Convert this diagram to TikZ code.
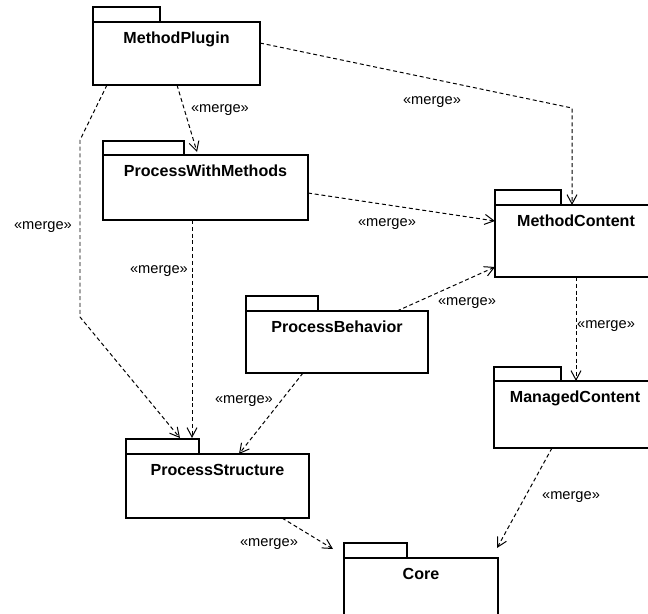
\documentclass[tikz,border=0pt]{standalone}
\usepackage{fontspec}
\setmainfont{Liberation Sans}
\usetikzlibrary{arrows.meta,calc}
\begin{document}
\begin{tikzpicture}[x=0.03cm,y=-0.03cm,
  pkg/.style={draw,line width=1pt,anchor=north west,inner sep=0pt,outer sep=0pt,text height=0.63cm,font=\bfseries\fontsize{13.7}{16}\selectfont},
  tab/.style={line width=1pt},
  merge/.style={line width=0.85pt,dash pattern=on 3.4pt off 2.4pt,-{Straight Barb[length=2.8mm,width=3mm]}},
  lbl/.style={font=\fontsize{12.5}{15}\selectfont}]
\useasboundingbox (0,0) rectangle (648,613);
\clip (0,0) rectangle (648,613);
%packages
\node[pkg,minimum width=5.4cm,text depth=1.53cm](methodcontent) at (495,205){\hspace*{-0.54cm}MethodContent};
\draw[tab](methodcontent.north west) rectangle ++(66,-15);
\node[pkg,minimum width=5.4cm,text depth=1.38cm](managed) at (494,381){\hspace*{-0.54cm}ManagedContent};
\draw[tab](managed.north west) rectangle ++(67,-14);
\node[pkg,minimum width=5.01cm,text depth=1.26cm](plugin) at (93,22){MethodPlugin};
\draw[tab](plugin.north west) rectangle ++(67,-15);
\node[pkg,minimum width=6.15cm,text depth=1.32cm](withmethods) at (103,155){ProcessWithMethods};
\draw[tab](withmethods.north west) rectangle ++(81,-14);
\node[pkg,minimum width=5.46cm,text depth=1.23cm](behavior) at (246,311){ProcessBehavior};
\draw[tab](behavior.north west) rectangle ++(72,-15);
\node[pkg,minimum width=5.49cm,text depth=1.29cm](structure) at (126,454){ProcessStructure};
\draw[tab](structure.north west) rectangle ++(73,-15);
\node[pkg,minimum width=4.62cm,text depth=1.47cm](core) at (344,558){Core};
\draw[tab](core.north west) rectangle ++(63,-15);
%merges
\draw[merge]($(plugin.south west)+(14,0)$)--(80,140)--(80,317)--($(structure.north west)+(54,-16)$);
\draw[merge]($(plugin.south west)+(84,0)$)--($(withmethods.north west)+(94,-3)$);
\draw[merge]($(plugin.north east)+(0,21)$)--(572,108)--($(methodcontent.north west)+(77,0)$);
\draw[merge]($(withmethods.north east)+(0,38)$)--($(methodcontent.north west)+(0,16)$);
\draw[merge]($(withmethods.south west)+(89,0)$)--($(structure.north west)+(66,-16)$);
\draw[merge]($(behavior.north west)+(151,0)$)--($(methodcontent.north west)+(0,62)$);
\draw[merge]($(behavior.south west)+(57,0)$)--($(structure.north west)+(113,0)$);
\draw[merge]($(methodcontent.south west)+(81,0)$)--($(managed.north west)+(82,0)$);
\draw[merge]($(managed.south west)+(58,0)$)--($(core.north west)+(153,-10)$);
\draw[merge]($(structure.south west)+(156,0)$)--($(core.north west)+(-11,-9)$);
%labels
\node[lbl](m1) at (43,227){«merge»};
\node[lbl](m2) at (220,110){«merge»};
\node[lbl](m3) at (432,102){«merge»};
\node[lbl](m4) at (387,224){«merge»};
\node[lbl](m5) at (159,271){«merge»};
\node[lbl](m6) at (467,303){«merge»};
\node[lbl](m7) at (244,401){«merge»};
\node[lbl](m8) at (606,326){«merge»};
\node[lbl](m9) at (571,497){«merge»};
\node[lbl](m10) at (269,544){«merge»};
\end{tikzpicture}
\end{document}
